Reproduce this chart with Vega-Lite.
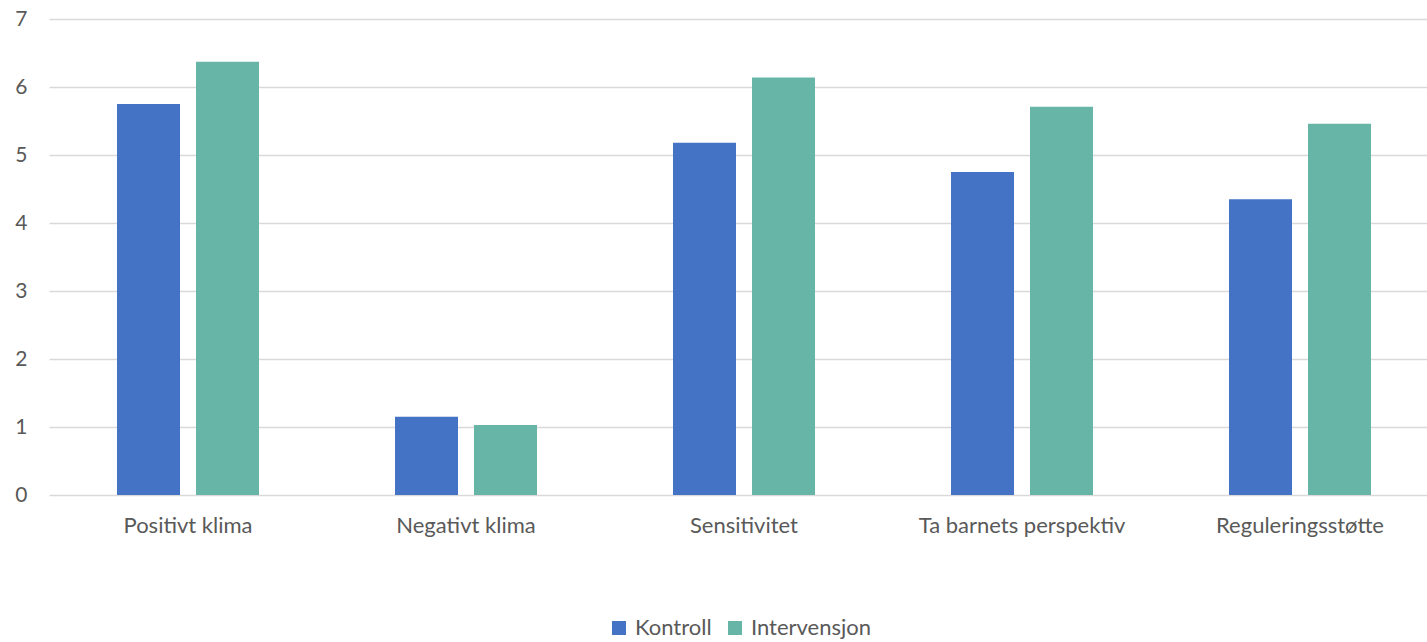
{
  "$schema": "https://vega.github.io/schema/vega-lite/v6.json",
  "width": 1390,
  "height": 476,
  "autosize": {"type": "none"},
  "padding": {"left": 49, "top": 19, "right": 0, "bottom": 147},
  "background": "white",
  "config": {
    "view": {"stroke": null},
    "font": "Lato",
    "axis": {"labelFont": "Lato", "labelColor": "#595959", "labelFontSize": 21, "labelLimit": 0}
  },
  "data": {
    "values": [
      {"kategori": "Positivt klima", "gruppe": "Kontroll", "verdi": 5.75},
      {"kategori": "Positivt klima", "gruppe": "Intervensjon", "verdi": 6.37},
      {"kategori": "Negativt klima", "gruppe": "Kontroll", "verdi": 1.15},
      {"kategori": "Negativt klima", "gruppe": "Intervensjon", "verdi": 1.03},
      {"kategori": "Sensitivitet", "gruppe": "Kontroll", "verdi": 5.18},
      {"kategori": "Sensitivitet", "gruppe": "Intervensjon", "verdi": 6.14},
      {"kategori": "Ta barnets perspektiv", "gruppe": "Kontroll", "verdi": 4.75},
      {"kategori": "Ta barnets perspektiv", "gruppe": "Intervensjon", "verdi": 5.71},
      {"kategori": "Reguleringsstøtte", "gruppe": "Kontroll", "verdi": 4.35},
      {"kategori": "Reguleringsstøtte", "gruppe": "Intervensjon", "verdi": 5.46}
    ]
  },
  "mark": {"type": "bar"},
  "encoding": {
    "x": {
      "field": "kategori",
      "type": "nominal",
      "sort": null,
      "title": null,
      "scale": {"paddingInner": 0, "paddingOuter": 0},
      "axis": {"labelAngle": 0, "domain": false, "ticks": false, "labelPadding": 20, "grid": false, "labelFontSize": 22, "labelLimit": 0}
    },
    "xOffset": {
      "field": "gruppe",
      "type": "nominal",
      "sort": ["Kontroll", "Intervensjon"],
      "scale": {"paddingInner": 0.2025, "paddingOuter": 0.861}
    },
    "y": {
      "field": "verdi",
      "type": "quantitative",
      "title": null,
      "scale": {"domain": [0, 7], "nice": false},
      "axis": {"values": [0, 1, 2, 3, 4, 5, 6, 7], "domain": false, "ticks": false, "labelPadding": 22, "gridColor": "#d9d9d9", "gridWidth": 1.5}
    },
    "color": {
      "field": "gruppe",
      "type": "nominal",
      "sort": ["Kontroll", "Intervensjon"],
      "scale": {"domain": ["Kontroll", "Intervensjon"], "range": ["#4472C4", "#67B5A7"]},
      "legend": {
        "title": null,
        "orient": "none",
        "direction": "horizontal",
        "legendX": 559,
        "legendY": 598,
        "symbolType": "square",
        "symbolSize": 196,
        "symbolStrokeWidth": 0,
        "symbolOpacity": 1,
        "labelFont": "Lato",
        "labelFontSize": 22,
        "labelColor": "#595959",
        "labelOffset": 5,
        "columnPadding": 12
      }
    }
  }
}
